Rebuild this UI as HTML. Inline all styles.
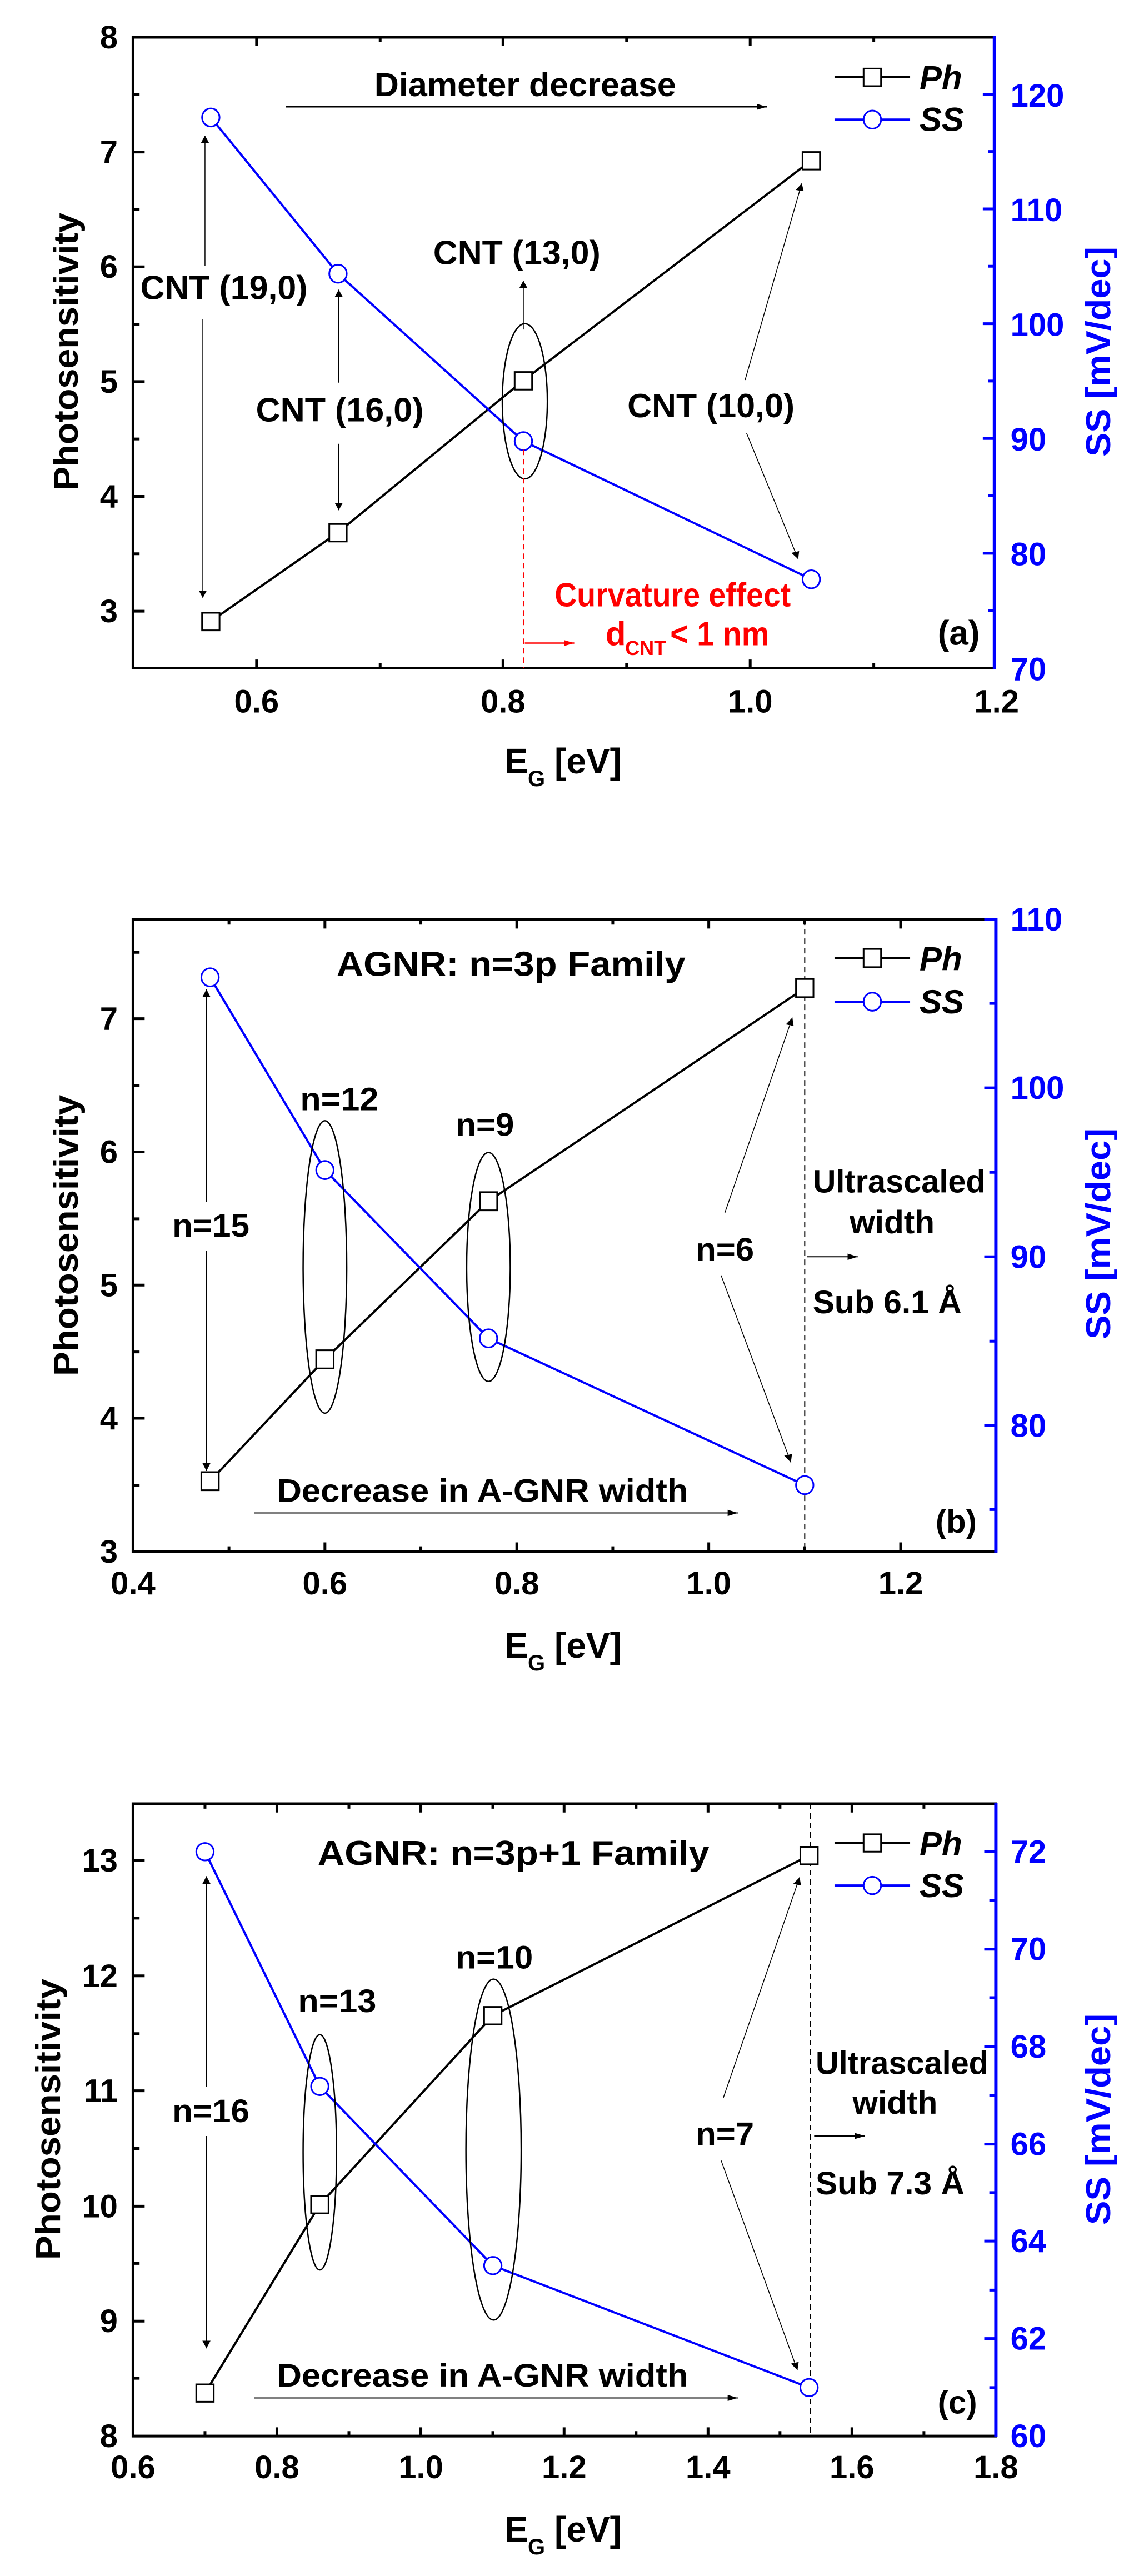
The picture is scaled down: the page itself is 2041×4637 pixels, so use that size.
<!DOCTYPE html>
<html><head><meta charset="utf-8"><style>
html,body{margin:0;padding:0;background:#fff;}
body{width:2041px;height:4637px;position:relative;overflow:hidden;}
svg{position:absolute;left:0;}
text{font-family:"Liberation Sans",sans-serif;font-weight:bold;}
.p text{transform-box:fill-box;transform-origin:0 50%;}
.pa text{transform:scale(0.7643,1.045);}
.pb text{transform:scale(0.7643,0.980);}
.pc text{transform:scale(0.7643,1.020);}
.p text.m{text-anchor:middle;transform-origin:50% 50%;}
.p text.e{text-anchor:end;transform-origin:100% 50%;}
.t{font-size:58px;}
.b{fill:#0000ff;}
.p line,.p rect,.p polyline,.p path,.p ellipse{vector-effect:non-scaling-stroke;}
</style></head><body>

<!-- PANEL A -->
<svg class="p pa" style="top:0" width="2041" height="1500" viewBox="0 0 1560 1568" preserveAspectRatio="none">
<defs>
<marker id="ah" viewBox="0 0 10 10" refX="10" refY="5" markerWidth="14" markerHeight="14" markerUnits="userSpaceOnUse" orient="auto"><path d="M0,1 L10,5 L0,9 z" fill="#000"/></marker>
<marker id="ahr" viewBox="0 0 10 10" refX="10" refY="5" markerWidth="14" markerHeight="14" markerUnits="userSpaceOnUse" orient="auto"><path d="M0,1 L10,5 L0,9 z" fill="#f00"/></marker>
</defs>
<rect x="183" y="70" width="1185" height="1187" fill="none" stroke="#000" stroke-width="5"/>
<line x1="1368" y1="68" x2="1368" y2="1259" stroke="#00f" stroke-width="6"/>
<path stroke="#000" stroke-width="5" d="M183,70h16M183,286h16M183,502h16M183,718h16M183,934h16M183,1150h16M183,178h9M183,394h9M183,610h9M183,826h9M183,1042h9
M353,70v16M692,70v16M1032,70v16M523,70v9M862,70v9M1202,70v9
M353,1257v-16M692,1257v-16M1032,1257v-16M523,1257v-9M862,1257v-9M1202,1257v-9"/>
<path stroke="#00f" stroke-width="5" d="M1368,1041h-16M1368,825h-16M1368,609h-16M1368,393h-16M1368,178h-16M1368,1149h-9M1368,933h-9M1368,717h-9M1368,501h-9M1368,285h-9"/>
<g class="t"><text class="e" x="162" y="90">8</text><text class="e" x="162" y="306">7</text><text class="e" x="162" y="522">6</text><text class="e" x="162" y="738">5</text><text class="e" x="162" y="954">4</text><text class="e" x="162" y="1170">3</text></g>
<g class="t"><text class="m" x="353" y="1340">0.6</text><text class="m" x="692" y="1340">0.8</text><text class="m" x="1032" y="1340">1.0</text><text class="m" x="1371" y="1340">1.2</text></g>
<g class="t b"><text x="1390" y="1279">70</text><text x="1390" y="1063">80</text><text x="1390" y="847">90</text><text x="1390" y="631">100</text><text x="1390" y="415">110</text><text x="1390" y="200">120</text></g>
<polyline points="290,1169 465,1002 720,716 1116,302" fill="none" stroke="#000" stroke-width="4"/>
<polyline points="290,221 465,515 720,830 1116,1090" fill="none" stroke="#00f" stroke-width="4"/>
<g fill="#fff" stroke="#000" stroke-width="3"><rect x="278" y="1153" width="24" height="33"/><rect x="453" y="986" width="24" height="33"/><rect x="708" y="700" width="24" height="33"/><rect x="1104" y="286" width="24" height="33"/></g>
<g fill="#fff" stroke="#00f" stroke-width="3"><ellipse cx="290" cy="221" rx="12" ry="17"/><ellipse cx="465" cy="515" rx="12" ry="17"/><ellipse cx="720" cy="830" rx="12" ry="17"/><ellipse cx="1116" cy="1090" rx="12" ry="17"/></g>
<text x="515" y="180" font-size="60" textLength="543" lengthAdjust="spacingAndGlyphs">Diameter decrease</text>
<line x1="393" y1="201" x2="1055" y2="201" stroke="#000" stroke-width="2.5" marker-end="url(#ah)"/>
<g font-size="60"><text x="193" y="562" textLength="301" lengthAdjust="spacingAndGlyphs">CNT (19,0)</text>
<text x="352" y="792" textLength="302" lengthAdjust="spacingAndGlyphs">CNT (16,0)</text>
<text x="596" y="496" textLength="301" lengthAdjust="spacingAndGlyphs">CNT (13,0)</text>
<text x="863" y="784" textLength="301" lengthAdjust="spacingAndGlyphs">CNT (10,0)</text></g>
<g stroke="#000" stroke-width="1.5" fill="none">
<line x1="282" y1="500" x2="282" y2="255" marker-end="url(#ah)"/><line x1="279" y1="600" x2="279" y2="1125" marker-end="url(#ah)"/>
<line x1="466" y1="720" x2="466" y2="545" marker-end="url(#ah)"/><line x1="466" y1="835" x2="466" y2="960" marker-end="url(#ah)"/>
<line x1="720" y1="620" x2="720" y2="528" marker-end="url(#ah)"/>
<line x1="1025" y1="715" x2="1103" y2="345" marker-end="url(#ah)"/><line x1="1027" y1="815" x2="1098" y2="1052" marker-end="url(#ah)"/>
<ellipse cx="722" cy="755" rx="31" ry="146" stroke-width="2.5"/></g>
<line x1="720" y1="846" x2="720" y2="1257" stroke="#f00" stroke-width="2" stroke-dasharray="10,7"/>
<line x1="722" y1="1210" x2="790" y2="1210" stroke="#f00" stroke-width="2.5" marker-end="url(#ahr)"/>
<text x="763" y="1140" font-size="60" fill="#f00" textLength="425" lengthAdjust="spacingAndGlyphs">Curvature effect</text>
<text x="833" y="1213" font-size="60" fill="#f00">d</text><text x="860" y="1232" font-size="36" fill="#f00">CNT</text><text x="922" y="1213" font-size="60" fill="#f00" textLength="178" lengthAdjust="spacingAndGlyphs">&lt; 1 nm</text>
<text x="1290" y="1212" font-size="62">(a)</text>
<line x1="1148" y1="145" x2="1252" y2="145" stroke="#000" stroke-width="4"/><rect x="1188" y="129" width="24" height="33" fill="#fff" stroke="#000" stroke-width="3"/>
<line x1="1148" y1="225" x2="1252" y2="225" stroke="#00f" stroke-width="4"/><ellipse cx="1200" cy="225" rx="12" ry="17" fill="#fff" stroke="#00f" stroke-width="3"/>
<text x="1265" y="167" font-size="60" font-style="italic">Ph</text><text x="1265" y="245" font-size="60" font-style="italic">SS</text>
</svg>

<!-- PANEL B -->
<svg class="p pb" style="top:1500px" width="2041" height="1600" viewBox="0 0 1560 1568" preserveAspectRatio="none">
<defs><marker id="bh" viewBox="0 0 10 10" refX="10" refY="5" markerWidth="14" markerHeight="14" markerUnits="userSpaceOnUse" orient="auto"><path d="M0,1 L10,5 L0,9 z" fill="#000"/></marker></defs>
<rect x="183" y="152" width="1187" height="1115" fill="none" stroke="#000" stroke-width="5"/>
<line x1="1370" y1="150" x2="1370" y2="1269" stroke="#00f" stroke-width="6"/>
<path stroke="#000" stroke-width="5" d="M183,1032h16M183,797h16M183,562h16M183,327h16M183,1150h9M183,915h9M183,680h9M183,445h9M183,210h9
M447,152v16M711,152v16M975,152v16M1239,152v16M315,152v9M579,152v9M843,152v9M1107,152v9
M447,1267v-16M711,1267v-16M975,1267v-16M1239,1267v-16M315,1267v-9M579,1267v-9M843,1267v-9M1107,1267v-9"/>
<path stroke="#00f" stroke-width="5" d="M1370,1045h-16M1370,747h-16M1370,449h-16M1370,152h-16M1370,1193h-9M1370,896h-9M1370,598h-9M1370,300h-9"/>
<g class="t"><text class="e" x="162" y="1287">3</text><text class="e" x="162" y="1052">4</text><text class="e" x="162" y="817">5</text><text class="e" x="162" y="582">6</text><text class="e" x="162" y="347">7</text></g>
<g class="t"><text class="m" x="183" y="1343">0.4</text><text class="m" x="447" y="1343">0.6</text><text class="m" x="711" y="1343">0.8</text><text class="m" x="975" y="1343">1.0</text><text class="m" x="1239" y="1343">1.2</text></g>
<g class="t b"><text x="1390" y="1065">80</text><text x="1390" y="767">90</text><text x="1390" y="469">100</text><text x="1390" y="172">110</text></g>
<line x1="1107" y1="152" x2="1107" y2="1267" stroke="#000" stroke-width="2" stroke-dasharray="10,7"/>
<polyline points="289,1143 447,928 672,649 1107,273" fill="none" stroke="#000" stroke-width="4"/>
<polyline points="289,254 447,594 672,891 1107,1150" fill="none" stroke="#00f" stroke-width="4"/>
<g fill="#fff" stroke="#000" stroke-width="3"><rect x="277" y="1127" width="24" height="32"/><rect x="435" y="912" width="24" height="32"/><rect x="660" y="633" width="24" height="32"/><rect x="1095" y="257" width="24" height="32"/></g>
<g fill="#fff" stroke="#00f" stroke-width="3"><ellipse cx="289" cy="254" rx="12" ry="16"/><ellipse cx="447" cy="594" rx="12" ry="16"/><ellipse cx="672" cy="891" rx="12" ry="16"/><ellipse cx="1107" cy="1150" rx="12" ry="16"/></g>
<text x="463" y="252" font-size="62" textLength="628" lengthAdjust="spacingAndGlyphs">AGNR: n=3p Family</text>
<g font-size="58"><text x="237" y="712" textLength="139" lengthAdjust="spacingAndGlyphs">n=15</text>
<text x="413" y="489" textLength="141" lengthAdjust="spacingAndGlyphs">n=12</text>
<text x="627" y="534" textLength="105" lengthAdjust="spacingAndGlyphs">n=9</text>
<text x="957" y="754" textLength="105" lengthAdjust="spacingAndGlyphs">n=6</text>
<text x="1118" y="634" textLength="311" lengthAdjust="spacingAndGlyphs">Ultrascaled</text>
<text x="1169" y="706" textLength="153" lengthAdjust="spacingAndGlyphs">width</text>
<text x="1118" y="847" textLength="268" lengthAdjust="spacingAndGlyphs">Sub 6.1 Å</text>
<text x="381" y="1180" textLength="740" lengthAdjust="spacingAndGlyphs">Decrease in A-GNR width</text>
<text x="1287" y="1234">(b)</text></g>
<g stroke="#000" stroke-width="1.5" fill="none">
<line x1="284" y1="650" x2="284" y2="275" marker-end="url(#bh)"/><line x1="284" y1="737" x2="284" y2="1125" marker-end="url(#bh)"/>
<line x1="997" y1="670" x2="1090" y2="325" marker-end="url(#bh)"/><line x1="992" y1="780" x2="1088" y2="1110" marker-end="url(#bh)"/>
<line x1="1110" y1="747" x2="1180" y2="747" stroke-width="2" marker-end="url(#bh)"/>
<line x1="350" y1="1199" x2="1015" y2="1199" stroke-width="2" marker-end="url(#bh)"/>
<ellipse cx="447" cy="765" rx="30" ry="258" stroke-width="2.5"/><ellipse cx="672" cy="765" rx="30" ry="202" stroke-width="2.5"/></g>
<line x1="1148" y1="220" x2="1252" y2="220" stroke="#000" stroke-width="4"/><rect x="1188" y="204" width="24" height="32" fill="#fff" stroke="#000" stroke-width="3"/>
<line x1="1148" y1="297" x2="1252" y2="297" stroke="#00f" stroke-width="4"/><ellipse cx="1200" cy="297" rx="12" ry="16" fill="#fff" stroke="#00f" stroke-width="3"/>
<text x="1265" y="242" font-size="60" font-style="italic">Ph</text><text x="1265" y="318" font-size="60" font-style="italic">SS</text>
</svg>

<!-- PANEL C -->
<svg class="p pc" style="top:3100px" width="2041" height="1537" viewBox="0 0 1560 1568" preserveAspectRatio="none">
<defs><marker id="ch" viewBox="0 0 10 10" refX="10" refY="5" markerWidth="14" markerHeight="14" markerUnits="userSpaceOnUse" orient="auto"><path d="M0,1 L10,5 L0,9 z" fill="#000"/></marker></defs>
<rect x="183" y="150" width="1187" height="1161" fill="none" stroke="#000" stroke-width="5"/>
<line x1="1370" y1="148" x2="1370" y2="1313" stroke="#00f" stroke-width="6"/>
<path stroke="#000" stroke-width="5" d="M183,1100h16M183,889h16M183,677h16M183,466h16M183,254h16M183,1205h9M183,994h9M183,783h9M183,572h9M183,360h9
M381,150v16M579,150v16M776,150v16M974,150v16M1172,150v16M282,150v9M480,150v9M678,150v9M875,150v9M1073,150v9M1271,150v9
M381,1311v-16M579,1311v-16M776,1311v-16M974,1311v-16M1172,1311v-16M282,1311v-9M480,1311v-9M678,1311v-9M875,1311v-9M1073,1311v-9M1271,1311v-9"/>
<path stroke="#00f" stroke-width="5" d="M1370,1132h-16M1370,953h-16M1370,775h-16M1370,596h-16M1370,417h-16M1370,238h-16M1370,1222h-9M1370,1043h-9M1370,864h-9M1370,685h-9M1370,506h-9M1370,328h-9"/>
<g class="t"><text class="e" x="162" y="1331">8</text><text class="e" x="162" y="1120">9</text><text class="e" x="162" y="909">10</text><text class="e" x="162" y="697">11</text><text class="e" x="162" y="486">12</text><text class="e" x="162" y="274">13</text></g>
<g class="t"><text class="m" x="183" y="1388">0.6</text><text class="m" x="381" y="1388">0.8</text><text class="m" x="579" y="1388">1.0</text><text class="m" x="776" y="1388">1.2</text><text class="m" x="974" y="1388">1.4</text><text class="m" x="1172" y="1388">1.6</text><text class="m" x="1370" y="1388">1.8</text></g>
<g class="t b"><text x="1390" y="1331">60</text><text x="1390" y="1152">62</text><text x="1390" y="973">64</text><text x="1390" y="795">66</text><text x="1390" y="616">68</text><text x="1390" y="437">70</text><text x="1390" y="258">72</text></g>
<line x1="1115" y1="150" x2="1115" y2="1311" stroke="#000" stroke-width="2" stroke-dasharray="10,7"/>
<polyline points="282,1232 440,886 678,539 1113,245" fill="none" stroke="#000" stroke-width="4"/>
<polyline points="282,238 440,669 678,998 1113,1222" fill="none" stroke="#00f" stroke-width="4"/>
<g fill="#fff" stroke="#000" stroke-width="3"><rect x="270" y="1216" width="24" height="32"/><rect x="428" y="870" width="24" height="32"/><rect x="666" y="523" width="24" height="32"/><rect x="1101" y="229" width="24" height="32"/></g>
<g fill="#fff" stroke="#00f" stroke-width="3"><ellipse cx="282" cy="238" rx="12" ry="16"/><ellipse cx="440" cy="669" rx="12" ry="16"/><ellipse cx="678" cy="998" rx="12" ry="16"/><ellipse cx="1113" cy="1222" rx="12" ry="16"/></g>
<text x="437" y="262" font-size="62" textLength="705" lengthAdjust="spacingAndGlyphs">AGNR: n=3p+1 Family</text>
<g font-size="58"><text x="237" y="734" textLength="139" lengthAdjust="spacingAndGlyphs">n=16</text>
<text x="410" y="532" textLength="141" lengthAdjust="spacingAndGlyphs">n=13</text>
<text x="627" y="452" textLength="139" lengthAdjust="spacingAndGlyphs">n=10</text>
<text x="957" y="776" textLength="105" lengthAdjust="spacingAndGlyphs">n=7</text>
<text x="1122" y="646" textLength="311" lengthAdjust="spacingAndGlyphs">Ultrascaled</text>
<text x="1173" y="719" textLength="153" lengthAdjust="spacingAndGlyphs">width</text>
<text x="1122" y="867" textLength="268" lengthAdjust="spacingAndGlyphs">Sub 7.3 Å</text>
<text x="381" y="1220" textLength="740" lengthAdjust="spacingAndGlyphs">Decrease in A-GNR width</text>
<text x="1290" y="1269">(c)</text></g>
<g stroke="#000" stroke-width="1.5" fill="none">
<line x1="284" y1="670" x2="284" y2="283" marker-end="url(#ch)"/><line x1="284" y1="760" x2="284" y2="1150" marker-end="url(#ch)"/>
<line x1="995" y1="690" x2="1100" y2="285" marker-end="url(#ch)"/><line x1="992" y1="805" x2="1097" y2="1190" marker-end="url(#ch)"/>
<line x1="1120" y1="760" x2="1190" y2="760" stroke-width="2" marker-end="url(#ch)"/>
<line x1="350" y1="1241" x2="1015" y2="1241" stroke-width="2" marker-end="url(#ch)"/>
<ellipse cx="440" cy="790" rx="23" ry="216" stroke-width="2.5"/><ellipse cx="679" cy="785" rx="38" ry="313" stroke-width="2.5"/></g>
<line x1="1148" y1="222" x2="1252" y2="222" stroke="#000" stroke-width="4"/><rect x="1188" y="206" width="24" height="32" fill="#fff" stroke="#000" stroke-width="3"/>
<line x1="1148" y1="300" x2="1252" y2="300" stroke="#00f" stroke-width="4"/><ellipse cx="1200" cy="300" rx="12" ry="16" fill="#fff" stroke="#00f" stroke-width="3"/>
<text x="1265" y="244" font-size="60" font-style="italic">Ph</text><text x="1265" y="321" font-size="60" font-style="italic">SS</text>
</svg>

<!-- AXIS TITLES (actual pixel coords) -->
<svg style="top:0" width="2041" height="4637" viewBox="0 0 2041 4637">
<g font-size="62" text-anchor="middle">
<text transform="translate(140,633) rotate(-90)" textLength="500" lengthAdjust="spacingAndGlyphs">Photosensitivity</text>
<text transform="translate(140,2224) rotate(-90)" textLength="506" lengthAdjust="spacingAndGlyphs">Photosensitivity</text>
<text transform="translate(108,3815) rotate(-90)" textLength="506" lengthAdjust="spacingAndGlyphs">Photosensitivity</text>
<text transform="translate(1998,633) rotate(-90)" fill="#00f" textLength="378" lengthAdjust="spacingAndGlyphs">SS [mV/dec]</text>
<text transform="translate(1998,2221) rotate(-90)" fill="#00f" textLength="380" lengthAdjust="spacingAndGlyphs">SS [mV/dec]</text>
<text transform="translate(1998,3815) rotate(-90)" fill="#00f" textLength="380" lengthAdjust="spacingAndGlyphs">SS [mV/dec]</text>
</g>
<g font-size="64">
<text x="908" y="1392">E</text><text x="950" y="1415" font-size="40">G</text><text x="998" y="1392">[eV]</text>
<text x="908" y="2984">E</text><text x="950" y="3007" font-size="40">G</text><text x="998" y="2984">[eV]</text>
<text x="908" y="4575">E</text><text x="950" y="4598" font-size="40">G</text><text x="998" y="4575">[eV]</text>
</g>
</svg>
</body></html>
